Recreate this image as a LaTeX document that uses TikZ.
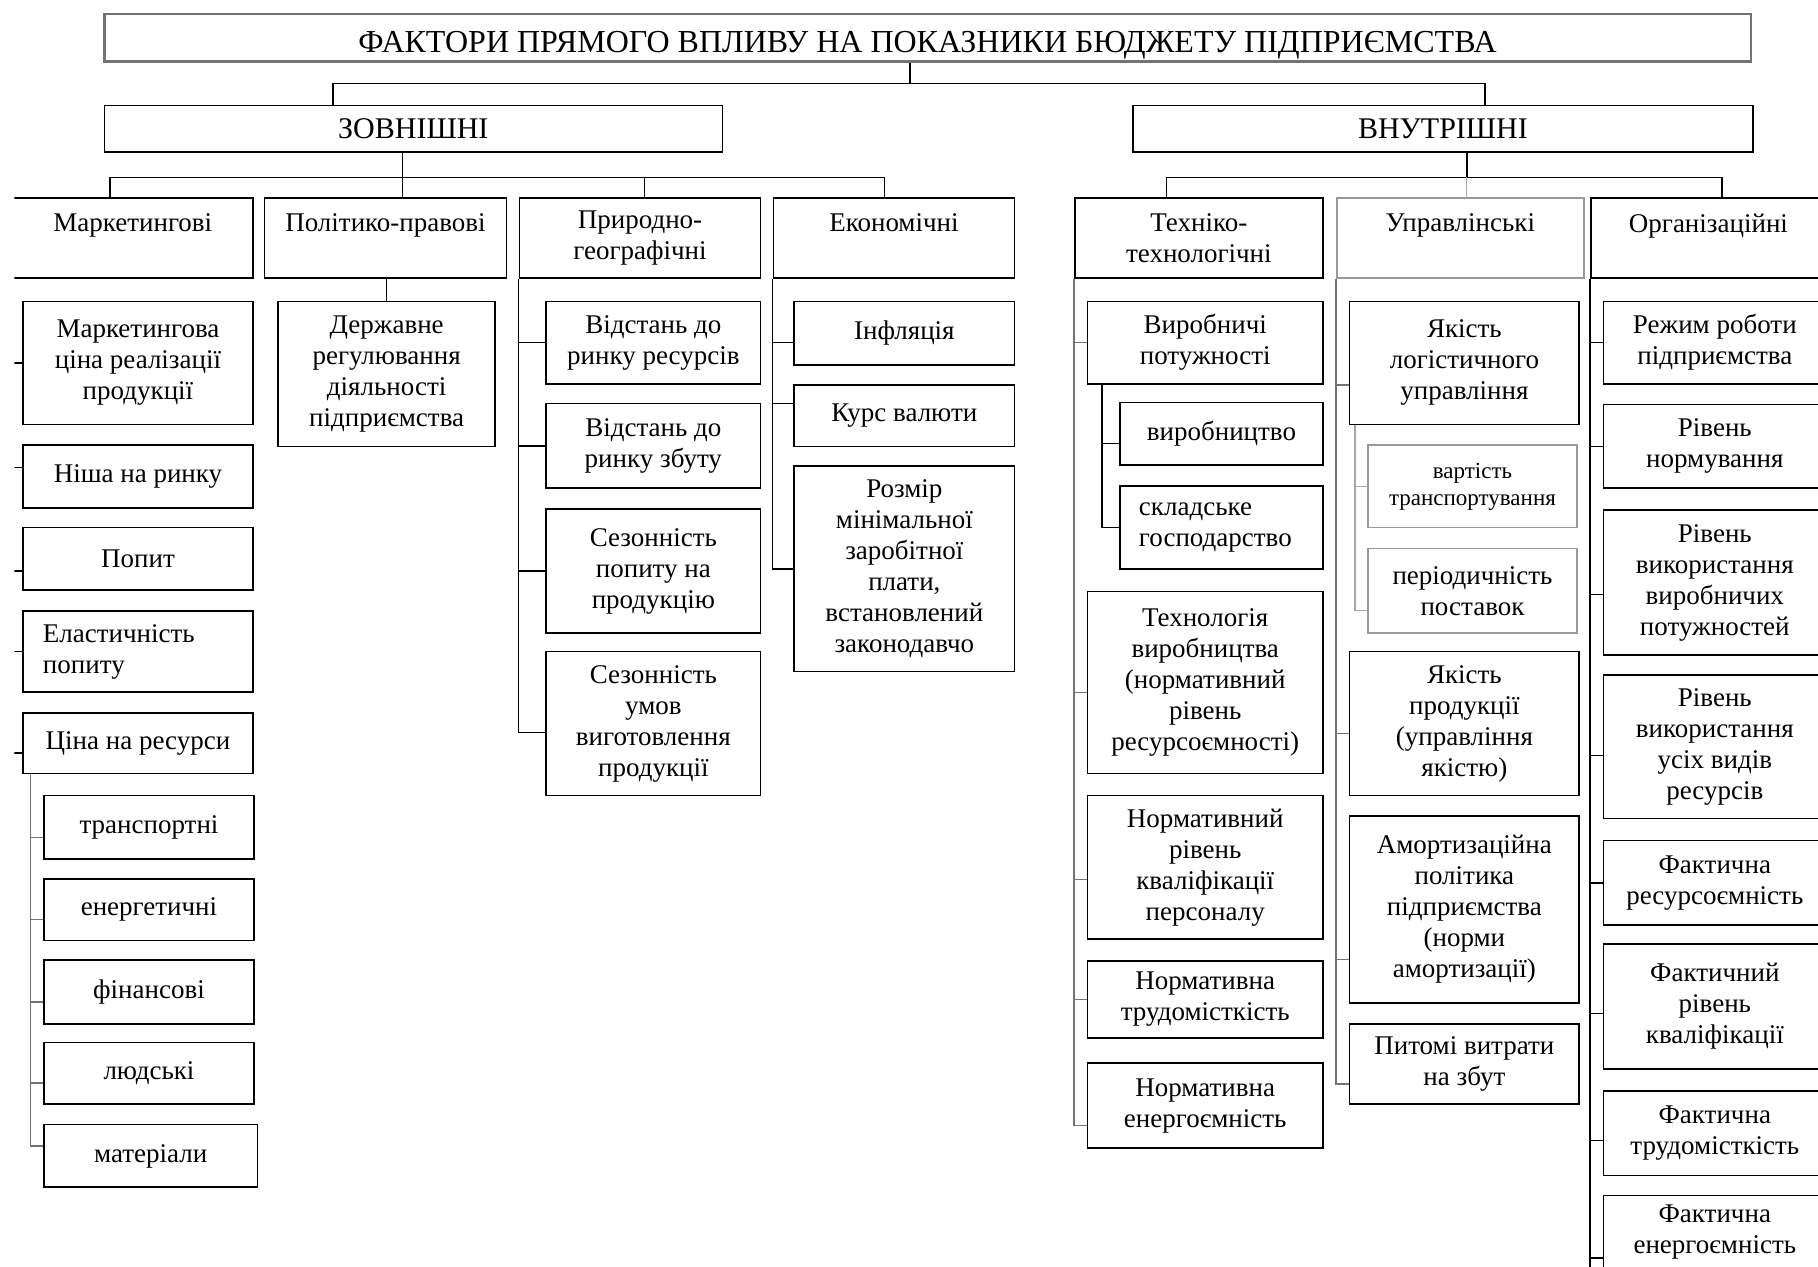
\documentclass[tikz,border=0pt]{standalone}
\usepackage{fontspec}
\setmainfont{Liberation Serif}

\begin{document}
\begin{tikzpicture}[x=1.1594pt, y=-1.1594pt,
    box/.style={draw, line width=1.6pt, inner sep=0pt, align=center,
      font=\fontsize{27}{31}\selectfont},
    sz/.style 2 args={minimum width=#1*1.1594pt, minimum height=#2*1.1594pt},
    lbox/.style={box, draw=black!40},
    tbox/.style={box, font=\fontsize{30}{34}\selectfont},
    link/.style={line width=1.6pt},
    glink/.style={line width=1.5pt, draw=black!55},
    llink/.style={line width=1.4pt, draw=black!35}]

  \useasboundingbox (0,0) rectangle (1568,1092);
  \clip (12.5,0) rectangle (1568,1092);

  % title and the two groups
  \node (title) [tbox, sz={1420}{41}, draw=black!55, line width=2.4pt,
    font=\fontsize{32}{36}\selectfont, text height=29pt, text depth=0pt] at (800,32.5)
    {ФАКТОРИ ПРЯМОГО ВПЛИВУ НА ПОКАЗНИКИ БЮДЖЕТУ ПІДПРИЄМСТВА};
  \node (zv) [tbox, sz={533}{40}] at (356.5,111) {ЗОВНІШНІ};
  \node (vn) [tbox, sz={535}{40}] at (1244.5,111) {ВНУТРІШНІ};

  \coordinate (t0) at (785,72);
  \coordinate (t1) at (287,72);
  \coordinate (t2) at (1281,72);
  \draw[link] (title.south -| t0) -- (t0);
  \draw[link] (zv.north -| t1) -- (t1) -- (t2) -- (vn.north -| t2);

  % group headers
  \node (mkh) [box, sz={207}{69}] at (114.5,205.5) {Маркетингові\\~};
  \node (pph) [box, sz={209}{69}] at (332.5,205.5) {Політико-правові\\~};
  \node (pgh) [box, sz={208}{69}] at (552,205.5) {Природно-\\географічні};
  \node (ekh) [box, sz={208}{69}] at (771,205.5) {Економічні\\~};
  \node (th) [box, sz={214}{69}] at (1034,205.5) {Техніко-\\технологічні};
  \node (uh) [lbox, sz={213}{69}] at (1259.5,205.5) {Управлінські\\~};
  \node (oh) [box, sz={203}{69}] at (1473.5,205.5) {Організаційні\\~};

  \coordinate (e1) at (95,153);
  \coordinate (e2) at (347,153);
  \coordinate (e3) at (556,153);
  \coordinate (e4) at (763,153);
  \draw[link] (zv.south -| e2) -- (e2);
  \draw[link] (mkh.north -| e1) -- (e1) -- (e4) -- (ekh.north -| e4);
  \draw[link] (e2) -- (pph.north -| e2);
  \draw[link] (e3) -- (pgh.north -| e3);

  \coordinate (i1) at (1006,153);
  \coordinate (i2) at (1265,153);
  \coordinate (i3) at (1485,153);
  \draw[link] (vn.south -| i2) -- (i2);
  \draw[link] (th.north -| i1) -- (i1) -- (i3) -- (oh.north -| i3);
  \draw[llink] (i2) -- (uh.north -| i2);

  % marketing
  \node (mk1) [box, sz={198}{106}] at (119,313) {Маркетингова\\ціна реалізації\\продукції};
  \node (mk2) [box, sz={198}{54}] at (119,411) {Ніша на ринку};
  \node (mk3) [box, sz={198}{54}] at (119,482) {Попит};
  \node (mk4) [box, sz={198}{70}, align=left, text width=190pt] at (119,562) {Еластичність\\попиту};
  \node (mk5) [box, sz={198}{52}] at (119,641) {Ціна на ресурси};
  \node (rs1) [box, sz={181}{55}] at (128.5,713.5) {транспортні};
  \node (rs2) [box, sz={181}{53}] at (128.5,784.5) {енергетичні};
  \node (rs3) [box, sz={181}{55}] at (128.5,855.5) {фінансові};
  \node (rs4) [box, sz={181}{53}] at (128.5,925.5) {людські};
  \node (rs5) [box, sz={184}{54}] at (130,997) {матеріали};
  \draw[link] (mk1.west) -| (mkh.south west)
    ([yshift=9pt]mk2.west) -| (mkh.south west)
    ([yshift=-12pt]mk3.west) -| (mkh.south west)
    (mk4.west) -| (mkh.south west)
    ([yshift=-10pt]mk5.west) -| (mkh.south west);
  \coordinate (rb) at ([xshift=8pt]mk5.south west);
  \draw[glink] ([yshift=-10pt]rs1.west) -| (rb)
    ([yshift=-10pt]rs2.west) -| (rb)
    ([yshift=-10pt]rs3.west) -| (rb)
    ([yshift=-10pt]rs4.west) -| (rb)
    ([yshift=10pt]rs5.west) -| (rb);

  % political and legal
  \node (dr) [box, sz={187}{125}] at (333.5,322.5) {Державне\\регулювання\\діяльності\\підприємства};
  \draw[link] (dr.north) -- (dr.north |- pph.south);

  % natural and geographic
  \node (pg1) [box, sz={185}{71}] at (563.5,295.5) {Відстань до\\ринку ресурсів};
  \node (pg2) [box, sz={185}{73}] at (563.5,384.5) {Відстань до\\ринку збуту};
  \node (pg3) [box, sz={185}{107}] at (563.5,492.5) {Сезонність\\попиту на\\продукцію};
  \node (pg4) [box, sz={185}{124}] at (563.5,624) {Сезонність\\умов\\виготовлення\\продукції};
  \draw[link] (pg1.west) -| (pgh.south west)
    (pg2.west) -| (pgh.south west)
    (pg3.west) -| (pgh.south west)
    ([yshift=-9pt]pg4.west) -| (pgh.south west);

  % economic
  \node (ek1) [box, sz={190}{55}] at (780,287.5) {Інфляція};
  \node (ek2) [box, sz={190}{53}] at (780,358.5) {Курс валюти};
  \node (ek3) [box, sz={190}{177}] at (780,490.5) {Розмір\\мінімальної\\заробітної\\плати,\\встановлений\\законодавчо};
  \draw[link] ([yshift=-9pt]ek1.west) -| (ekh.south west)
    ([yshift=12pt]ek2.west) -| (ekh.south west)
    (ek3.west) -| (ekh.south west);

  % technical and technological
  \node (tt1) [box, sz={203}{71}] at (1039.5,295.5) {Виробничі\\потужності};
  \node (vp1) [box, sz={175}{54}] at (1053.5,374) {виробництво};
  \node (vp2) [box, sz={175}{72}, align=left, text width=165pt] at (1053.5,455) {складське\\господарство};
  \node (tt2) [box, sz={203}{157}] at (1039.5,588.5) {Технологія\\виробництва\\(нормативний\\рівень\\ресурсоємності)};
  \node (tt3) [box, sz={203}{124}] at (1039.5,748) {Нормативний\\рівень\\кваліфікації\\персоналу};
  \node (tt4) [box, sz={203}{66}] at (1039.5,862) {Нормативна\\трудомісткість};
  \node (tt5) [box, sz={203}{73}] at (1039.5,953.5) {Нормативна\\енергоємність};
  \draw[glink] (tt1.west) -| (th.south west)
    ([yshift=-10pt]tt2.west) -| (th.south west)
    ([yshift=-12pt]tt3.west) -| (th.south west)
    (tt4.west) -| (th.south west)
    ([yshift=-20pt]tt5.west) -| (th.south west);
  \coordinate (vb) at ([xshift=15pt]tt1.south west);
  \draw[link] ([yshift=-10pt]vp1.west) -| (vb)
    (vp2.west) -| (vb);

  % management
  \node (um1) [box, sz={198}{106}] at (1263,313) {Якість\\логістичного\\управління};
  \node (lg1) [lbox, sz={180}{71}, font=\fontsize{23}{27}\selectfont] at (1270,419.5) {вартість\\транспортування};
  \node (lg2) [lbox, sz={180}{73}] at (1270,509.5) {періодичність\\поставок};
  \node (um2) [box, sz={198}{124}] at (1263,624) {Якість\\продукції\\(управління\\якістю)};
  \node (um3) [box, sz={198}{161}] at (1263,784.5) {Амортизаційна\\політика\\підприємства\\(норми\\амортизації)};
  \node (um4) [box, sz={198}{69}] at (1263,917.5) {Питомі витрати\\на збут};
  \draw[glink] ([yshift=-22pt]um1.west) -| (uh.south west)
    ([yshift=-10pt]um2.west) -| (uh.south west)
    ([yshift=-50pt]um3.west) -| (uh.south west)
    ([yshift=-20pt]um4.west) -| (uh.south west);
  \coordinate (lb) at ([xshift=6pt]um1.south west);
  \draw[llink] (lg1.west) -| (lb)
    ([yshift=-20pt]lg2.west) -| (lb);

  % organisational
  \node (or1) [box, sz={192}{71}] at (1479,295.5) {Режим роботи\\підприємства};
  \node (or2) [box, sz={192}{72}] at (1479,385) {Рівень\\нормування};
  \node (or3) [box, sz={192}{125}] at (1479,502.5) {Рівень\\використання\\виробничих\\потужностей};
  \node (or4) [box, sz={192}{124}] at (1479,644) {Рівень\\використання\\усіх видів\\ресурсів};
  \node (or5) [box, sz={192}{73}] at (1479,761.5) {Фактична\\ресурсоємність};
  \node (or6) [box, sz={192}{108}] at (1479,868) {Фактичний\\рівень\\кваліфікації};
  \node (or7) [box, sz={192}{73}] at (1479,977.5) {Фактична\\трудомісткість};
  \node (or8) [box, sz={192}{63}] at (1479,1062.5) {Фактична\\енергоємність};
  \coordinate (ob) at (1372,1100);
  \draw[link] (oh.south west) -- (oh.south west |- ob)
    (or1.west) -| (oh.south west)
    (or2.west) -| (oh.south west)
    ([yshift=-12pt]or3.west) -| (oh.south west)
    ([yshift=-9pt]or4.west) -| (oh.south west)
    (or5.west) -| (oh.south west)
    ([yshift=-7pt]or6.west) -| (oh.south west)
    ([yshift=-7pt]or7.west) -| (oh.south west)
    ([yshift=-26pt]or8.west) -| (oh.south west);
\end{tikzpicture}
\end{document}
